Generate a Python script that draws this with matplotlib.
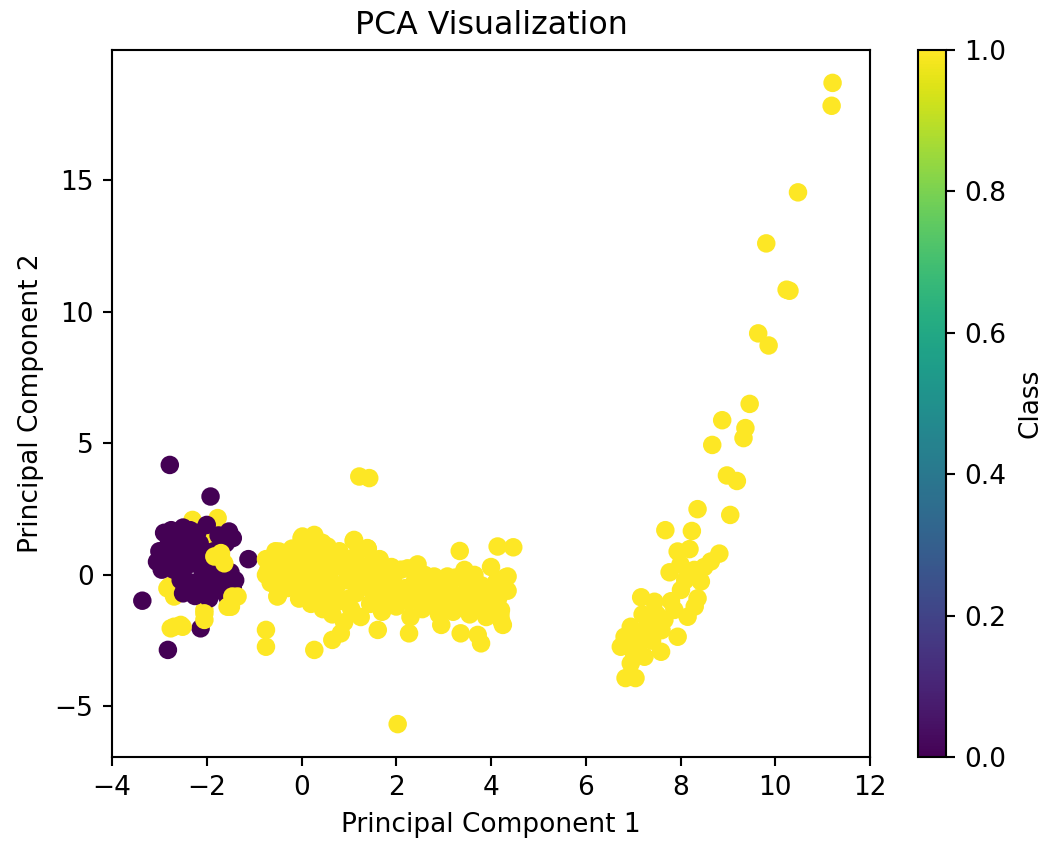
import numpy as np
import matplotlib
matplotlib.use("Agg")
import matplotlib.pyplot as plt

# principal component scores, grouped by region
# class 1 (yellow) drawn under the purple blob
left_yellow_under = [(-2.30, 2.09), (-1.77, 2.16), (-2.20, 1.59), (-2.65, 0.0),
                     (-2.83, -0.51), (-2.79, -0.44), (-2.69, -0.82), (-2.62, 0.06),
                     (-2.05, -1.33), (-1.92, 1.33)]
# class 0 (purple)
purple = [(-2.78, 4.18), (-1.92, 2.98), (-3.36, -0.98), (-2.13, -2.03), (-2.82, -2.85),
          (-1.12, 0.60), (-1.53, 1.65),
          (-3.0, 0.9), (-2.9, 0.5), (-2.8, 1.2), (-2.75, 1.7), (-2.6, 1.5), (-2.5, 1.8),
          (-2.4, 1.3), (-2.3, 1.0), (-2.2, 0.6), (-2.1, 0.2), (-2.0, -0.1), (-1.9, 0.4),
          (-1.8, -0.4), (-1.7, -0.6), (-1.6, -0.2), (-1.5, 0.1), (-1.45, -0.5), (-1.6, 1.2),
          (-1.75, 1.5), (-2.0, 1.9), (-2.2, 1.6), (-2.6, 0.6), (-2.7, 0.2), (-2.55, -0.2),
          (-2.4, -0.5), (-2.25, -0.8), (-2.1, -0.6), (-1.95, -0.9), (-2.3, -0.3), (-2.45, 0.3),
          (-2.15, 1.2), (-1.85, 0.9), (-3.05, 0.5), (-2.95, 0.2), (-2.85, 0.8), (-2.35, 0.7),
          (-1.65, 0.3), (-2.05, 0.9), (-2.65, 1.0), (-1.55, -0.9), (-1.4, -0.2), (-1.45, 1.4),
          (-2.5, -0.7), (-2.2, -0.4), (-1.8, 0.0), (-2.9, 1.6), (-2.35, 1.7)]
# class 1 (yellow) drawn on top
left_yellow_over = [(-1.70, 0.83), (-1.63, 0.44), (-1.84, 0.70), (-1.46, -0.82),
                    (-1.49, -1.21), (-1.35, -0.82), (-1.56, -1.21), (-2.05, -1.46),
                    (-2.05, -1.71), (-2.69, -1.97), (-2.55, -1.90), (-2.51, -1.97),
                    (-2.76, -2.03), (-1.70, 0.70)]
mid_yellow = [(1.22, 3.74), (1.43, 3.68), (3.34, 0.91), (4.14, 1.08), (4.47, 1.05),
              (3.44, 0.19), (3.61, -0.06), (-0.75, -2.09), (-0.75, -2.73), (0.27, -2.85),
              (0.65, -2.47), (0.83, -2.22), (1.61, -2.09), (2.27, -2.22), (3.36, -2.22),
              (3.79, -2.60), (3.72, -2.28), (4.35, -0.06), (4.14, -0.19), (4.21, -1.33),
              (4.21, -1.71), (0.02, 1.46), (0.27, 1.52), (0.44, 1.22), (0.55, 1.08),
              (1.11, 1.33), (1.39, 1.02), (1.61, 0.57), (-0.47, 0.89), (-0.65, 0.57),
              (-0.75, 0.0), (-0.51, -0.82), (2.24, 0.25), (2.80, -0.06), (3.08, -0.06),
              (2.03, -5.67),
              (-0.75, 0.6), (-0.7, 0.2), (-0.65, -0.3), (-0.55, 0.9), (-0.5, -0.8),
              (-0.45, 0.4), (-0.4, -0.1), (-0.35, 0.75), (-0.3, -0.5), (-0.25, 0.2),
              (-0.2, 1.0), (-0.15, -0.3), (-0.1, 0.5), (-0.05, -0.9), (0.0, 1.4),
              (0.0, 0.1), (0.05, -0.5), (0.1, 0.8), (0.15, -0.2), (0.2, 1.3),
              (0.2, -1.1), (0.25, 0.3), (0.3, -0.6), (0.35, 0.9), (0.4, 1.2),
              (0.4, -0.1), (0.45, -1.3), (0.5, 0.5), (0.55, -0.8), (0.6, 0.1),
              (0.65, -1.5), (0.7, 0.7), (0.75, -0.4), (0.8, -1.0), (0.85, 0.3),
              (0.9, -1.8), (0.95, -0.2), (1.0, 0.6), (1.05, -1.3), (1.1, 1.3),
              (1.1, 0.0), (1.15, -0.7), (1.2, 0.9), (1.25, -1.6), (1.3, 0.3),
              (1.35, -0.4), (1.4, 1.0), (1.45, -1.1), (1.5, 0.5), (1.55, -0.1),
              (1.6, -0.8), (1.65, 0.6), (1.7, -1.4), (1.75, 0.1), (1.8, -0.5),
              (1.85, -1.0), (1.9, 0.3), (1.95, -0.3), (2.0, -1.2), (2.05, -0.7),
              (0.3, 0.0), (0.6, -0.3), (0.9, 0.4), (1.2, -0.2), (1.5, -0.6),
              (0.0, -0.3), (-0.3, 0.3), (0.5, -1.0), (0.8, 0.9), (1.0, -0.9),
              (2.1, 0.2), (2.2, -0.5), (2.25, -1.0), (2.3, -1.6), (2.4, -0.2),
              (2.5, -0.8), (2.55, -1.3), (2.6, 0.0), (2.7, -0.5), (2.75, -1.1),
              (2.85, -0.7), (2.9, -1.5), (3.0, -0.3), (3.05, -1.0), (3.15, -0.6),
              (3.2, -1.4), (3.3, -0.9), (3.4, -1.2), (3.5, -0.5), (3.55, -1.5),
              (3.6, -0.9), (3.7, -1.3), (3.8, -0.4), (3.85, -1.0), (3.9, -1.6),
              (4.0, -0.7), (4.05, -1.2), (4.1, -0.3), (4.15, -0.9), (4.2, -1.5),
              (4.3, -0.1), (4.35, -0.6), (4.25, -1.9), (2.45, 0.4), (2.95, -1.9),
              (3.25, -0.1), (3.65, 0.0), (4.0, 0.3)]
right_yellow = [(11.21, 18.70), (11.19, 17.83), (10.48, 14.54), (9.81, 12.60),
                (10.24, 10.84), (10.30, 10.80), (9.64, 9.18), (9.86, 8.72),
                (9.46, 6.50), (8.88, 5.88), (9.37, 5.58), (9.33, 5.20), (8.67, 4.94),
                (8.98, 3.78), (9.19, 3.57), (8.36, 2.50), (9.05, 2.28),
                (7.68, 1.70), (8.24, 1.67), (7.94, 0.89), (8.19, 0.98), (8.82, 0.81),
                (8.64, 0.51), (7.77, 0.10), (8.29, 0.19), (8.43, -0.25), (8.01, -0.57),
                (8.36, -0.89), (7.17, -0.85), (7.45, -1.02), (7.87, -1.33), (8.15, -1.59),
                (7.66, -1.71), (7.31, -1.90), (6.95, -1.97), (6.82, -2.35), (6.74, -2.73),
                (7.10, -2.73), (7.24, -3.11), (7.59, -2.92), (7.94, -2.35), (6.95, -3.36),
                (6.84, -3.92), (7.05, -3.92), (7.1, -2.2), (7.4, -2.5), (7.6, -2.1),
                (7.8, -1.0), (8.1, -0.2), (8.5, 0.3), (8.0, 0.4), (7.5, -1.5),
                (7.2, -1.5), (8.3, -1.2), (7.0, -2.9), (6.9, -2.6)]

groups = [(left_yellow_under, 1), (purple, 0), (left_yellow_over, 1),
          (mid_yellow, 1), (right_yellow, 1)]
pc1 = np.array([p[0] for g, _ in groups for p in g])
pc2 = np.array([p[1] for g, _ in groups for p in g])
labels = np.array([c for g, c in groups for _ in g])

fig = plt.figure(figsize=(1051 / 190, 842 / 190), dpi=190)
ax = fig.add_axes([112 / 1051, 85 / 842, 758 / 1051, 707 / 842])
cax = fig.add_axes([918 / 1051, 85 / 842, 28 / 1051, 707 / 842])

sc = ax.scatter(pc1, pc2, c=labels, cmap="viridis")
ax.set_xlim(-4.0, 12.0)
ax.set_ylim(-6.92, 19.95)
ax.set_title("PCA Visualization")
ax.set_xlabel("Principal Component 1")
ax.set_ylabel("Principal Component 2")
fig.colorbar(sc, cax=cax, label="Class")

fig.savefig("out.png", dpi=190)
